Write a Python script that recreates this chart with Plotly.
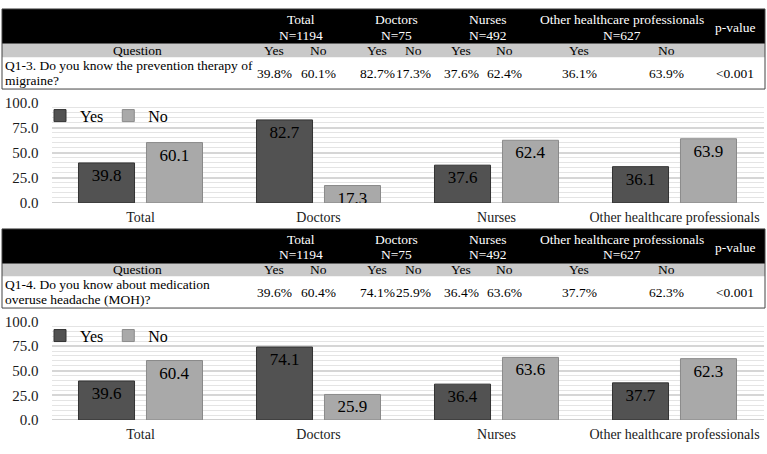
import plotly.graph_objects as go

# ---------------- data ----------------
categories = ["Total", "Doctors", "Nurses", "Other healthcare professionals"]
group_n = [1194, 75, 492, 627]
q1_yes = [39.8, 82.7, 37.6, 36.1]
q1_no = [60.1, 17.3, 62.4, 63.9]
q2_yes = [39.6, 74.1, 36.4, 37.7]
q2_no = [60.4, 25.9, 63.6, 62.3]
question_lines = [
    ["Q1-3. Do you know the prevention therapy of", "migraine?"],
    ["Q1-4. Do you know about medication", "overuse headache (MOH)?"],
]
p_values = ["<0.001", "<0.001"]
series_names = ["Yes", "No"]
y_ticks = [0, 25, 50, 75, 100]

W, H = 767, 454
FONT = "Liberation Serif"
YES_COLOR = "#525252"
NO_COLOR = "#a9a9a9"


def px(x):
    return x / W


def py(y):
    return 1 - y / H


fig = go.Figure()

# ---------------- bar charts ----------------
for k, (yes, no, ax) in enumerate([(q1_yes, q1_no, ""), (q2_yes, q2_no, "2")]):
    leg = "legend" if k == 0 else "legend2"
    for name, vals, col, lcol in [
        (series_names[0], yes, YES_COLOR, "#333333"),
        (series_names[1], no, NO_COLOR, "#8a8a8a"),
    ]:
        fig.add_trace(go.Bar(
            x=categories, y=vals, name=name,
            marker=dict(color=col, line=dict(color=lcol, width=1)),
            texttemplate="%{y:.1f}", textposition="inside",
            insidetextanchor="end", textangle=0, constraintext="none",
            textfont=dict(family=FONT, size=17, color="black"),
            xaxis="x" + ax, yaxis="y" + ax, legend=leg,
            hoverinfo="skip",
        ))

axis_common_y = dict(
    range=[0, 100], tickvals=y_ticks, tickformat=".1f",
    tickfont=dict(family=FONT, size=15, color="#1a1a1a"),
    showgrid=True, gridcolor="#d6d6d6", gridwidth=2,
    minor=dict(dtick=5, showgrid=True, gridcolor="#e4e4e4", gridwidth=1),
    zeroline=True, zerolinecolor="#cfcfcf", zerolinewidth=1,
    showline=False, ticks="", ticklabelstandoff=12, fixedrange=True,
)
axis_common_x = dict(
    tickfont=dict(family=FONT, size=14, color="#1a1a1a"),
    showgrid=False, zeroline=False, showline=False, ticks="",
    ticklabelstandoff=4, fixedrange=True,
)

xdom = [px(51.5), px(763.5)]
fig.update_layout(
    xaxis=dict(domain=xdom, anchor="y", **axis_common_x),
    yaxis=dict(domain=[py(202), py(98)], anchor="x", **axis_common_y),
    xaxis2=dict(domain=xdom, anchor="y2", **axis_common_x),
    yaxis2=dict(domain=[py(427), py(325)], anchor="x2", **axis_common_y),
)

leg_common = dict(
    orientation="h", xanchor="left", yanchor="top",
    bgcolor="rgba(0,0,0,0)", font=dict(family=FONT, size=16, color="black"),
    itemwidth=30, traceorder="normal", tracegroupgap=0,
)
fig.update_layout(
    legend=dict(x=px(40), y=py(94), **leg_common),
    legend2=dict(x=px(40), y=py(322), **leg_common),
)

# ---------------- tables ----------------
shapes = []
annotations = []
col_x = [(274, 318), (377, 413), (461, 505), (579, 666)]
grp_x = [301, 396, 488, 622]
p_x = 735
TX0, TX1 = 2, 765


def add_text(x, y, text, size=13.5, color="black", xanchor="center"):
    annotations.append(dict(
        x=px(x), y=py(y), xref="paper", yref="paper", text=text,
        showarrow=False, xanchor=xanchor, yanchor="middle",
        font=dict(family=FONT, size=size, color=color),
    ))


tables = [
    dict(top=1, gray=37, white=51, bot=84, yes=q1_yes, no=q1_no),
    dict(top=229, gray=265, white=278, bot=311, yes=q2_yes, no=q2_no),
]
for t, tb in enumerate(tables):
    shapes.append(dict(type="rect", xref="paper", yref="paper",
                       x0=px(TX0), x1=px(TX1), y0=py(tb["gray"]), y1=py(tb["top"]),
                       fillcolor="black", line=dict(width=0), layer="below"))
    shapes.append(dict(type="rect", xref="paper", yref="paper",
                       x0=px(TX0), x1=px(TX1), y0=py(tb["white"]), y1=py(tb["gray"]),
                       fillcolor="#c9c9c9", line=dict(width=0), layer="below"))
    shapes.append(dict(type="rect", xref="paper", yref="paper",
                       x0=px(TX0), x1=px(TX1), y0=py(tb["bot"]), y1=py(tb["top"]),
                       fillcolor="rgba(0,0,0,0)", line=dict(color="#444444", width=1)))
    hy1 = tb["top"] + 11
    hy2 = tb["top"] + 27
    for g, cat in enumerate(categories):
        add_text(grp_x[g], hy1, cat, color="white")
        add_text(grp_x[g], hy2, "N=%d" % group_n[g], color="white")
    add_text(p_x, (tb["top"] + tb["gray"]) / 2 + 1, "p-value", color="white")
    gy = (tb["gray"] + tb["white"]) / 2
    add_text(137, gy, "Question")
    for g in range(len(categories)):
        add_text(col_x[g][0], gy, series_names[0])
        add_text(col_x[g][1], gy, series_names[1])
    wy = (tb["white"] + tb["bot"]) / 2
    lines = question_lines[t]
    add_text(3, wy - 8, lines[0], size=13.5, xanchor="left")
    add_text(3, wy + 8, lines[1], size=13.5, xanchor="left")
    for g in range(len(categories)):
        add_text(col_x[g][0], wy, "%.1f%%" % tb["yes"][g], size=13.5)
        add_text(col_x[g][1], wy, "%.1f%%" % tb["no"][g], size=13.5)
    add_text(p_x, wy, p_values[t].replace("<", "&lt;"), size=13.5)

fig.update_layout(
    width=W, height=H, margin=dict(l=0, r=0, t=0, b=0),
    paper_bgcolor="white", plot_bgcolor="white",
    barmode="group", bargap=0.236, bargroupgap=0.176,
    shapes=shapes, annotations=annotations,
    hovermode=False,
)

fig.write_html("out.html", config={"displayModeBar": False})
